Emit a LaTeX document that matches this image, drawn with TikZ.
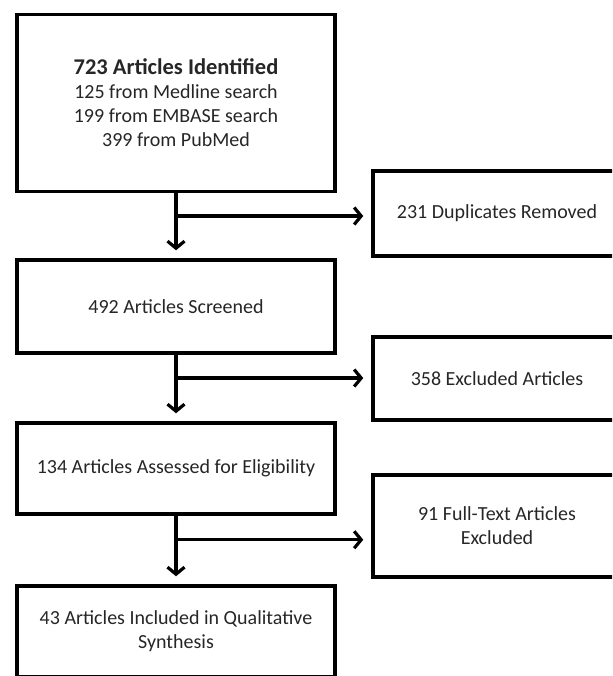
\documentclass[tikz,border=0pt]{standalone}
\usepackage{fontspec}
\setmainfont{Carlito}
\usetikzlibrary{positioning,calc,arrows.meta}

\begin{document}
\begin{tikzpicture}[x=1pt,y=-1pt,
    box/.style={draw, line width=3.5pt, align=center, inner sep=0pt,
      text=black!85, font=\fontsize{20}{24}\selectfont},
    leftbox/.style={box, minimum width=318pt},
    rightbox/.style={box, minimum width=248pt},
    arr/.style={line width=3.2pt, -{Straight Barb[length=7pt,width=17pt]}, shorten >=8pt}]

  \def \gap {0.35} % where the side arrow leaves the down arrow

  \useasboundingbox (0,0) rectangle (612,676);
  \clip (0,0) rectangle (612,676);

  % main column
  \node[leftbox, minimum height=177pt] (box1) at (176,103)
    {{\fontsize{22.5}{25}\selectfont\bfseries 723 Articles Identified}\\125 from Medline search\\199 from EMBASE search\\399 from PubMed};
  \node[leftbox, minimum height=93pt] (box2) at (176,306.5) {492 Articles Screened};
  \node[leftbox, minimum height=91pt] (box3) at (176,468.5) {134 Articles Assessed for Eligibility};
  \node[leftbox, minimum height=91pt] (box4) at (176,631.5)
    {43 Articles Included in Qualitative\\Synthesis};

  % removed records
  \node[rightbox, minimum height=85pt] (dup) at (497,213.5) {231 Duplicates Removed};
  \node[rightbox, minimum height=83pt] (excl) at (497,378.5) {358 Excluded Articles};
  \node[rightbox, minimum height=102pt] (full) at (497,526) {91 Full-Text Articles\\Excluded};

  \foreach \a/\b/\s in {box1/box2/dup, box2/box3/excl, box3/box4/full} {
    \draw[arr] (\a.south) -- (\b.north);
    \coordinate (\a-split) at ($(\a.south)!\gap!(\b.north)$);
    \draw[arr] (\a-split) -- (\a-split -| \s.west);
  }
\end{tikzpicture}
\end{document}
